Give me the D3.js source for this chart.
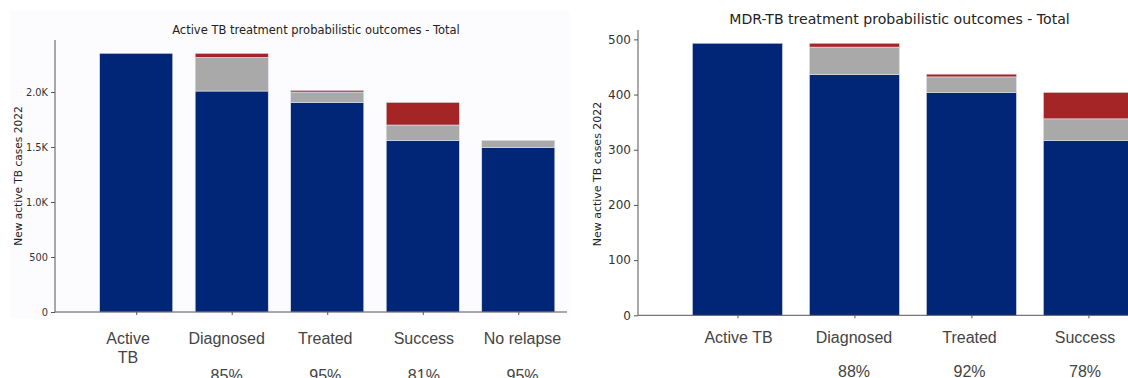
<!DOCTYPE html>
<html><head><meta charset="utf-8">
<script src="https://cdn.jsdelivr.net/npm/d3@7/dist/d3.min.js"></script>
<style>
html,body{margin:0;padding:0;background:#fff;}
svg{display:block;}
</style></head>
<body>
<svg id="c" width="1128" height="378"></svg>
<script>
// Left chart: Active TB
const categoriesA = ["Active TB", "Diagnosed", "Treated", "Success", "No relapse"];
const blueA = [2352, 2009, 1906, 1561, 1497];
const greyA = [0, 306, 94, 139, 64];
const redA = [0, 37, 15, 206, 0];
const pctA = ["", "85%", "95%", "81%", "95%"];
const ticksA = [0, 500, 1000, 1500, 2000];

// Right chart: MDR-TB
const categoriesB = ["Active TB", "Diagnosed", "Treated", "Success"];
const blueB = [493, 436, 404, 317];
const greyB = [0, 50, 28, 39];
const redB = [0, 7, 5, 48];
const pctB = ["", "88%", "92%", "78%"];
const ticksB = [0, 100, 200, 300, 400, 500];

const COL_BLUE = "#012677", COL_GREY = "#a9a9a9", COL_RED = "#a52527";
const svg = d3.select("#c");

function drawChart(cfg) {
  const g = svg.append("g");
  if (cfg.panel) {
    g.append("rect").attr("x", cfg.panel[0]).attr("y", cfg.panel[1])
      .attr("width", cfg.panel[2]).attr("height", cfg.panel[3]).attr("fill", "#fcfcfe");
  }
  const x = d3.scaleLinear().domain(cfg.xdom).range(cfg.xr);
  const xl = d3.scaleLinear().domain([0, cfg.cats.length - 1]).range(cfg.labR);
  const y = d3.scaleLinear().domain(cfg.ydom).range(cfg.yr);
  const bw = x(cfg.bw) - x(0);
  const n = cfg.cats.length;
  const stacks = d3.range(n).map(i => {
    const b = cfg.blue[i], gr = cfg.grey[i], r = cfg.red[i];
    return [[0, b, COL_BLUE], [b, b + gr, COL_GREY], [b + gr, b + gr + r, COL_RED]];
  });
  stacks.forEach((segs, i) => {
    segs.forEach(s => {
      if (s[1] - s[0] <= 0) return;
      g.append("rect")
        .attr("x", x(i) - bw / 2).attr("width", bw)
        .attr("y", y(s[1])).attr("height", y(s[0]) - y(s[1]))
        .attr("fill", s[2]).attr("stroke", "#dfe2ee").attr("stroke-width", 0.6);
    });
  });
  // y axis
  const ya = d3.axisLeft(y).tickValues(cfg.ticks).tickSize(4).tickPadding(3)
    .tickFormat(cfg.fmt);
  const yg = g.append("g").attr("transform", `translate(${cfg.xr[0]},0)`).call(ya);
  yg.select(".domain").attr("stroke", "#555").attr("d", `M0,${cfg.yr[0]}V${cfg.yr[1]}`);
  yg.selectAll(".tick line").attr("stroke", "#555");
  yg.selectAll("text").attr("fill", "#333").style("font-family", "DejaVu Sans").style("font-size", cfg.tickFs + "px");
  // x axis
  const xa = d3.axisBottom(x).tickValues(d3.range(n)).tickSize(3).tickFormat("");
  const xg = g.append("g").attr("transform", `translate(0,${cfg.yr[0]})`).call(xa);
  xg.select(".domain").attr("stroke", "#555").attr("d", `M${cfg.xr[0]},0H${cfg.xr[1]}`);
  xg.selectAll(".tick line").attr("stroke", "#555");
  // category labels
  cfg.cats.forEach((c, i) => {
    const lines = cfg.wrap && c === "Active TB" ? ["Active", "TB"] : [c];
    const t = g.append("text").attr("x", xl(i)).attr("y", cfg.catY)
      .attr("text-anchor", "middle").attr("fill", "#444")
      .style("font-family", "Liberation Sans, Arial, sans-serif").style("font-size", "16px");
    lines.forEach((l, k) => t.append("tspan").attr("x", xl(i)).attr("dy", k ? 18.5 : 0).text(l));
    if (cfg.pct[i]) {
      g.append("text").attr("x", xl(i)).attr("y", cfg.pctY).attr("text-anchor", "middle")
        .attr("fill", "#444").style("font-family", "Liberation Sans, Arial, sans-serif")
        .style("font-size", "16px").text(cfg.pct[i]);
    }
  });
  // title
  g.append("text").attr("x", cfg.titleX).attr("y", cfg.titleY).attr("text-anchor", "middle")
    .attr("fill", "#222").style("font-family", "DejaVu Sans").style("font-size", cfg.titleFs + "px")
    .text(cfg.title);
  // y label
  g.append("text").attr("transform", `translate(${cfg.ylabX},${cfg.ylabY}) rotate(-90)`)
    .attr("text-anchor", "middle").attr("fill", "#222")
    .style("font-family", "DejaVu Sans").style("font-size", cfg.ylabFs + "px")
    .text("New active TB cases 2022");
}

const fmtA = d => d === 0 ? "0" : d < 1000 ? String(d) : (d / 1000).toFixed(1) + "K";

drawChart({
  panel: [10, 10, 560, 309],
  cats: categoriesA, blue: blueA, grey: greyA, red: redA, pct: pctA, ticks: ticksA, fmt: fmtA,
  xdom: [-0.85, 4.51], xr: [55, 567], ydom: [0, 2473], yr: [312, 40], bw: 0.765,
  labR: [128, 522.5],
  tickFs: 9.8, catY: 344, pctY: 380.5, wrap: true,
  title: "Active TB treatment probabilistic outcomes - Total", titleX: 316, titleY: 34, titleFs: 11.5,
  ylabX: 21.5, ylabY: 176, ylabFs: 10.6
});

drawChart({
  panel: null,
  cats: categoriesB, blue: blueB, grey: greyB, red: redB, pct: pctB, ticks: ticksB, fmt: d => String(d),
  xdom: [-0.85, 3.6], xr: [638, 1158.6], ydom: [0, 517], yr: [315.3, 30], bw: 0.77,
  labR: [738.5, 1085],
  tickFs: 12, catY: 343, pctY: 377, wrap: false,
  title: "MDR-TB treatment probabilistic outcomes - Total", titleX: 899.5, titleY: 24, titleFs: 14.1,
  ylabX: 600.5, ylabY: 174, ylabFs: 11
});
</script>
</body></html>
